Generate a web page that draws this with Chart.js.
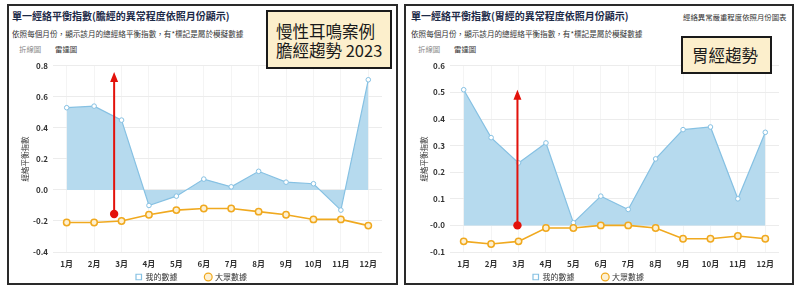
<!DOCTYPE html>
<html><head><meta charset="utf-8">
<script src="https://cdn.jsdelivr.net/npm/chart.js@4/dist/chart.umd.min.js"></script>
<style>
html,body{margin:0;padding:0;background:#fff;}
body{width:800px;height:292px;position:relative;overflow:hidden;font-family:"Noto Sans CJK TC","Noto Sans",sans-serif;}
.panel{position:absolute;border:2px solid #2a2a2a;box-sizing:border-box;background:#fff;}
.t{position:absolute;white-space:nowrap;line-height:1;}
.title{font-size:10px;font-weight:bold;color:#1d2a48;}
.sub{font-size:7.6px;color:#333;}
.tab{font-size:7.4px;color:#888;}
.tab2{font-size:7.4px;color:#333;}
.note{position:absolute;border:2px solid #1a1a1a;background:#fcefcc;box-sizing:border-box;color:#1a1a1a;}
canvas{position:absolute;}
</style></head>
<body>
<div class="panel" style="left:7px;top:4px;width:391px;height:281px;"></div>
<div class="panel" style="left:404px;top:4px;width:390px;height:281px;"></div>

<div class="t title" style="left:12px;top:11px;">單一經絡平衡指數(膽經的異常程度依照月份顯示)</div>
<div class="t sub" style="left:12px;top:30px;">依照每個月份，顯示該月的總經絡平衡指數，有*標記是屬於模擬數據</div>
<div class="t tab" style="left:19px;top:45px;">折線圖</div>
<div class="t tab2" style="left:55px;top:45px;">雷達圖</div>

<div class="t title" style="left:411px;top:11px;">單一經絡平衡指數(胃經的異常程度依照月份顯示)</div>
<div class="t sub" style="left:411px;top:30px;">依照每個月份，顯示該月的總經絡平衡指數，有*標記是屬於模擬數據</div>
<div class="t tab" style="left:418px;top:45px;">折線圖</div>
<div class="t tab2" style="left:454px;top:45px;">雷達圖</div>
<div class="t sub" style="left:683px;top:13px;font-size:7.4px;">經絡異常嚴重程度依照月份圖表</div>

<canvas id="c1" width="386" height="228" style="left:9px;top:56px;"></canvas>
<canvas id="c2" width="385" height="228" style="left:406px;top:56px;"></canvas>

<div class="note" style="left:266px;top:10px;width:126px;height:59px;">
  <div class="t" style="left:8px;top:11px;font-size:16.5px;">慢性耳鳴案例</div>
  <div class="t" style="left:8px;top:30px;font-size:16.5px;">膽經趨勢 2023</div>
</div>
<div class="note" style="left:681px;top:36px;width:91px;height:38px;">
  <div class="t" style="left:9px;top:9px;font-size:16.5px;">胃經趨勢</div>
</div>

<script>
const months = ['1月','2月','3月','4月','5月','6月','7月','8月','9月','10月','11月','12月'];
const seriesNames = ['我的數據','大眾數據'];
// 膽經 (gallbladder meridian)
const gbMine   = [0.53, 0.54, 0.45, -0.10, -0.04, 0.07, 0.02, 0.12, 0.05, 0.04, -0.13, 0.71];
const gbPublic = [-0.21, -0.21, -0.20, -0.16, -0.13, -0.12, -0.12, -0.14, -0.16, -0.19, -0.19, -0.23];
const gbAxis   = [-0.4, 0.8, 0.2];          // min, max, step
const gbArrow  = [1.73, -0.155, 0.76];      // category position, from value, to value
// 胃經 (stomach meridian)
const stMine   = [0.51, 0.33, 0.235, 0.31, 0.01, 0.11, 0.06, 0.25, 0.36, 0.37, 0.10, 0.35];
const stPublic = [-0.06, -0.07, -0.06, -0.01, -0.01, 0.0, 0.0, -0.01, -0.05, -0.05, -0.04, -0.05];
const stAxis   = [-0.1, 0.6, 0.1];
const stArrow  = [1.96, 0.0, 0.51];
const yTitle = '經絡平衡指數';

const FONT = '"Noto Sans CJK TC","Noto Sans",sans-serif';

const arrowPlugin = {
  id: 'redArrow',
  afterDatasetsDraw(chart, args, opts) {
    const a = opts.arrow; if (!a) return;
    const xs = chart.scales.x, ys = chart.scales.y, ctx = chart.ctx;
    const x = xs.getPixelForValue(a[0]);
    const y0 = ys.getPixelForValue(a[1]);
    const y1 = ys.getPixelForValue(a[2]);
    ctx.save();
    ctx.strokeStyle = '#e3120b'; ctx.fillStyle = '#e3120b'; ctx.lineWidth = 2;
    ctx.beginPath(); ctx.moveTo(x, y0); ctx.lineTo(x, y1 + 8); ctx.stroke();
    ctx.beginPath(); ctx.moveTo(x, y1); ctx.lineTo(x - 4, y1 + 10); ctx.lineTo(x + 4, y1 + 10); ctx.closePath(); ctx.fill();
    ctx.beginPath(); ctx.arc(x, y0, 4.2, 0, Math.PI * 2); ctx.fill();
    ctx.restore();
  }
};

function makeChart(id, mine, pub, axis, arrow, yAxisWidth, rightPad, titlePad) {
  return new Chart(document.getElementById(id), {
    type: 'line',
    data: {
      labels: months,
      datasets: [
        { label: seriesNames[0], data: mine, fill: 'origin', backgroundColor: '#b6daee',
          borderColor: '#86c1e3', borderWidth: 1.2, tension: 0,
          pointRadius: 2.3, pointBackgroundColor: '#ffffff', pointBorderColor: '#86c1e3', pointBorderWidth: 1, order: 2 },
        { label: seriesNames[1], data: pub, fill: false, backgroundColor: '#fdf0d2',
          borderColor: '#f0a91f', borderWidth: 1.6, tension: 0,
          pointRadius: 3.2, pointBackgroundColor: '#fdf0d2', pointBorderColor: '#f0a91f', pointBorderWidth: 1.5, order: 1 }
      ]
    },
    options: {
      responsive: false, animation: false, devicePixelRatio: 1,
      layout: { padding: { top: 9, right: rightPad, left: 0, bottom: 0 } },
      plugins: {
        tooltip: { enabled: false },
        redArrow: { arrow: arrow },
        legend: {
          position: 'bottom',
          maxHeight: 15,
          labels: {
            font: { family: FONT, size: 8 }, color: '#333', usePointStyle: true, boxWidth: 5.5, boxHeight: 5.5, padding: 4,
            generateLabels(chart) {
              const items = Chart.defaults.plugins.legend.labels.generateLabels(chart);
              items.sort((a, b) => a.datasetIndex - b.datasetIndex);
              items.forEach((it) => {
                it.pointStyle = it.datasetIndex === 0 ? 'rect' : 'circle';
                it.lineWidth = 1.2;
                it.text = it.text + (it.datasetIndex === 0 ? '\u3000\u3000\u3000' : '\u3000');
              });
              return items;
            }
          }
        }
      },
      scales: {
        x: {
          offset: true,
          afterFit(s) { s.height = 17; },
          grid: { color: '#f4f4f4', drawTicks: false },
          border: { display: false },
          ticks: { font: { family: FONT, size: 8, weight: 'bold' }, color: '#333', padding: 7, maxRotation: 0 }
        },
        y: {
          min: axis[0], max: axis[1],
          afterFit(s) { s.width = yAxisWidth; },
          grid: { color: '#ececec', drawTicks: false },
          border: { display: false },
          ticks: { stepSize: axis[2], font: { family: FONT, size: 8, weight: 'bold' }, color: '#333', padding: 5 },
          title: { display: true, text: yTitle, font: { family: FONT, size: 7.5 }, color: '#333', padding: { top: titlePad, bottom: 0 } }
        }
      }
    },
    plugins: [arrowPlugin]
  });
}

makeChart('c1', gbMine, gbPublic, gbAxis, gbArrow, 44, 13, 12);
makeChart('c2', stMine, stPublic, stAxis, stArrow, 44, 12, 14);
</script>
</body></html>
